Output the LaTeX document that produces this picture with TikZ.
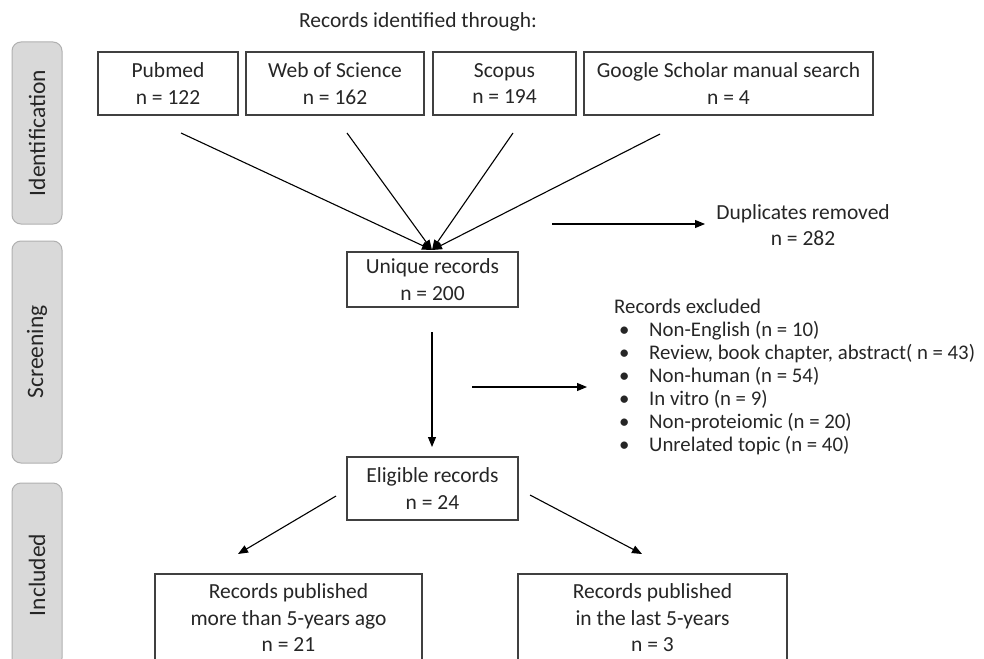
\documentclass[tikz,border=0pt]{standalone}
\usepackage{fontspec}
\setmainfont{Carlito}
\usetikzlibrary{arrows.meta}
\definecolor{txt}{HTML}{262626}
\definecolor{bord}{HTML}{404040}
\definecolor{sidefill}{HTML}{D9D9D9}
\definecolor{sidebord}{HTML}{B0B0B0}
\tikzset{
  mainfont/.style={font=\fontsize{21.5}{26.5}\selectfont},
  box/.style={draw=bord, line width=1.3pt, fill=white, align=center, text=txt,
    mainfont, inner sep=0pt},
  plain/.style={text=txt, mainfont, inner sep=0pt},
  listitem/.style={text=txt, font=\fontsize{20.8}{25}\selectfont, inner sep=0pt, anchor=base west},
  side/.style={draw=sidebord, line width=1pt, fill=sidefill, rounded corners=9pt,
    rotate=90, text=txt, font=\fontsize{23.5}{28}\selectfont, inner sep=0pt,
    minimum height=50pt},
  arr/.style={draw=black, line width=1.1pt, -{Triangle[length=10pt,width=8pt]}},
}
\begin{document}
\begin{tikzpicture}[x=1pt,y=-1pt]
\useasboundingbox (0,0) rectangle (984,658);
\clip (0,0) rectangle (984,658);

% side bars
\node[side, minimum width=182pt] (sid) at (37,133) {Identification};
\node[side, minimum width=222pt] (sscr) at (37,352) {Screening};
\node[side, minimum width=184pt] (sinc) at (37,575) {Included};

% title
\node[plain] (title) at (418,22) {Records identified through:};

% source boxes
\node[box, minimum width=140pt, minimum height=63pt] (pub) at (168,83.5) {Pubmed\\n = 122};
\node[box, minimum width=178pt, minimum height=63pt] (wos) at (335,83.5) {Web of Science\\n = 162};
\node[box, minimum width=143pt, minimum height=63pt] (sco) at (504.5,83.5) {Scopus\\n = 194};
\node[box, minimum width=289pt, minimum height=63pt] (gs) at (728.5,83.5) {Google Scholar manual search\\n = 4};

% unique records
\node[box, minimum width=171pt, minimum height=55pt] (uniq) at (432.5,279.5) {Unique records\\n = 200};

\coordinate (pubS) at (181,133);
\coordinate (wosS) at (347,133);
\coordinate (scoS) at (513,133);
\coordinate (gsS) at (660,134);
\coordinate (apex) at (432,250);
\draw[arr] (pubS) -- (apex);
\draw[arr] (wosS) -- (apex);
\draw[arr] (scoS) -- (apex);
\draw[arr] (gsS) -- (apex);

% duplicates
\coordinate (dupS) at (552,224);
\coordinate (dupE) at (705,224);
\draw[arr] (dupS) -- (dupE);
\node[plain, align=center] (dup) at (803,225) {Duplicates removed\\n = 282};

% excluded
\node[listitem] (ex0) at (614,313) {Records excluded};
\foreach \i/\t in {1/{Non-English (n = 10)},2/{Review, book chapter, abstract( n = 43)},3/{Non-human (n = 54)},4/{In vitro (n = 9)},5/{Non-proteiomic (n = 20)},6/{Unrelated topic (n = 40)}}{
  \node[listitem] (ex\i) at (614,313+23.1*\i) {\makebox[35pt][l]{\hspace{5pt}•}\t};
}
\coordinate (excS) at (472,387);
\coordinate (excE) at (587,387);
\draw[arr] (excS) -- (excE);

% eligible
\coordinate (uniqD) at (432,332);
\coordinate (eligU) at (432,447);
\node[box, minimum width=171pt, minimum height=63pt] (elig) at (432.5,488.5) {Eligible records\\n = 24};
\draw[arr] (uniqD) -- (eligU);
\coordinate (leftS) at (336,496);
\coordinate (leftE) at (238,554);
\coordinate (rightS) at (530,495);
\coordinate (rightE) at (642,554);
\draw[arr] (leftS) -- (leftE);
\draw[arr] (rightS) -- (rightE);

% bottom boxes
\node[box, minimum width=267pt, minimum height=88pt] (old) at (288.5,618) {Records published\\more than 5-years ago\\n = 21};
\node[box, minimum width=269pt, minimum height=88pt] (new) at (652.5,618) {Records published\\in the last 5-years\\n = 3};
\end{tikzpicture}
\end{document}
